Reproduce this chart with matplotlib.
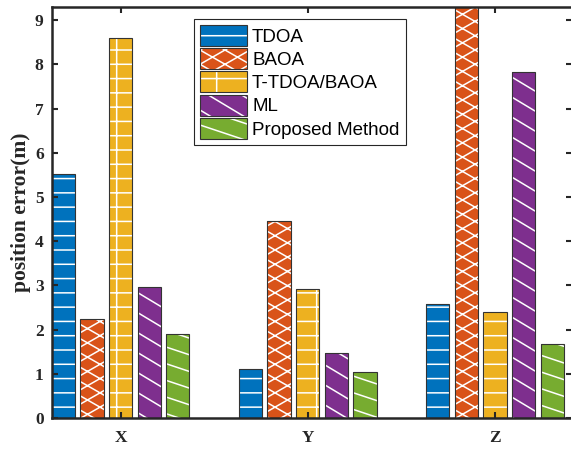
import warnings
import numpy as np
import matplotlib
matplotlib.use("Agg")
import matplotlib.pyplot as plt
from matplotlib import hatch as mhatch
from matplotlib.path import Path
from matplotlib.patches import Patch
from matplotlib.legend_handler import HandlerTuple

warnings.filterwarnings("ignore")

# Data
axes_labels = ["X", "Y", "Z"]
methods = ["TDOA", "BAOA", "T-TDOA/BAOA", "ML", "Proposed Method"]
tdoa = [5.52, 1.12, 2.57]
baoa = [2.25, 4.45, 9.90]
t_tdoa_baoa = [8.60, 2.91, 2.40]
ml = [2.97, 1.48, 7.83]
proposed = [1.91, 1.05, 1.68]
values = [tdoa, baoa, t_tdoa_baoa, ml, proposed]

colors = ["#0072BD", "#D95319", "#EDB120", "#7E2F8E", "#77AC30"]
hatches = ["a", "b", "c", "d", "e"]

# Custom (sparser, angled) hatch patterns, one letter each
# each family: (kind, lines per cell, slope)
HATCH_FAMILIES = {
    "a": [("h", 7, 0.0)],
    "b": [("h", 7, 4 / 7), ("h", 7, -4 / 7)],
    "c": [("h", 7, 0.0), ("v", 3, 0.0)],
    "d": [("h", 5, 3 / 5)],
    "e": [("h", 6, 2 / 6)],
}


def family_segments(kind, n, s):
    segs = []
    if kind == "v":
        for k in range(n):
            x = (k + 0.5) / n
            segs += [(x, -0.1), (x, 1.1)]
    else:
        extra = int(np.ceil(abs(s) * n)) + 2
        for k in range(-extra, n + extra):
            y = (k + 0.5) / n
            segs += [(-0.1, y + 0.1 * s), (1.1, y - 1.1 * s)]
    return segs


class CustomHatch:
    def __init__(self, hatch, density):
        segs = []
        for ch in hatch:
            for fam in HATCH_FAMILIES.get(ch, []):
                segs += family_segments(*fam)
        self.segs = np.array(segs, dtype=float).reshape(-1, 2)
        self.num_vertices = len(self.segs)

    def set_vertices_and_codes(self, vertices, codes):
        vertices[:] = self.segs
        codes[0::2] = Path.MOVETO
        codes[1::2] = Path.LINETO


mhatch._hatch_types.append(CustomHatch)

plt.rcParams["hatch.linewidth"] = 1.1
plt.rcParams["font.family"] = "Liberation Serif"

fig = plt.figure(figsize=(5.71, 4.49), dpi=100)
ax = fig.add_axes([52 / 571, 1 - 418 / 449, 520 / 571, 411 / 449])

x = np.arange(1, len(axes_labels) + 1)
step = 0.153
width = 0.1245
edge = "#333333"

handles = []
for i, (vals, c, h) in enumerate(zip(values, colors, hatches)):
    pos = x + (i - 2) * step
    ax.bar(pos, vals, width, color=c, edgecolor="white", hatch=h, linewidth=0)
    ax.bar(pos, vals, width, fill=False, edgecolor=edge, linewidth=0.8)
    handles.append((Patch(facecolor=c, edgecolor="white", hatch=h, linewidth=0),
                    Patch(fill=False, edgecolor=edge, linewidth=0.8)))

ax.set_xlim(0.634, 3.411)
ax.set_ylim(0, 9.3)
ax.set_xticks(x)
ax.set_xticklabels(axes_labels)
ax.set_yticks(range(10))

for sp in ax.spines.values():
    sp.set_linewidth(1.8)
    sp.set_color("#262626")

ax.tick_params(axis="both", direction="in", length=4, width=1.5, color="#262626",
               top=True, right=True, labelsize=12.5, labelcolor="#262626")
ax.tick_params(axis="y", pad=6)
ax.tick_params(axis="x", pad=9)
for lab in ax.get_xticklabels() + ax.get_yticklabels():
    lab.set_fontweight("bold")

ax.set_ylabel("position error(m)", fontsize=15.5, fontweight="bold", color="#262626",
              labelpad=3)

leg = ax.legend(handles, methods, handler_map={tuple: HandlerTuple(ndivide=1, pad=0)},
                loc="upper left", bbox_to_anchor=(194 / 571, 1 - 19 / 449),
                bbox_transform=fig.transFigure, borderaxespad=0,
                prop={"family": "Liberation Sans", "size": 13.5},
                handlelength=2.5, handleheight=1.345, labelspacing=0.12,
                handletextpad=0.28, borderpad=0.32, fancybox=False,
                framealpha=1, edgecolor="#262626")
leg.get_frame().set_linewidth(0.8)

plt.savefig("out.png", dpi=100)
